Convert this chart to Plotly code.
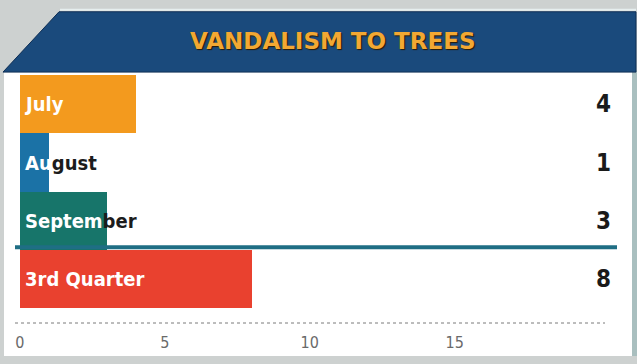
import plotly.graph_objects as go

# Data
categories = ["July", "August", "September", "3rd Quarter"]
counts = [4, 1, 3, 8]
bar_colors = ["#f39a1e", "#1b72a6", "#17756a", "#e9412f"]
x_ticks = [0, 5, 10, 15]
title_text = "VANDALISM TO TREES"

W, H = 637, 364
ML, MR, MT, MB = 15, 20, 75, 34
PW, PH = W - ML - MR, H - MT - MB


def px(x):
    """Figure pixel column -> paper fraction."""
    return (x - ML) / PW


def py(y):
    """Figure pixel row (from top) -> paper fraction."""
    return (H - MB - y) / PH


def narrow(s):
    return f"<span style='font-stretch:condensed'>{s}</span>"


rows = list(range(len(categories) - 1, -1, -1))  # first category on top

fig = go.Figure(
    go.Bar(
        x=counts,
        y=rows,
        orientation="h",
        marker=dict(color=bar_colors, line=dict(width=0)),
        width=1.0,
        hoverinfo="skip",
    )
)

label_font = "DejaVu Sans Condensed, DejaVu Sans, sans-serif"

shapes = [
    # white card
    dict(type="rect", xref="paper", yref="paper", layer="below",
         x0=px(4), x1=px(632), y0=py(364), y1=py(70),
         fillcolor="#ffffff", line=dict(width=0)),
    # right edge strip
    dict(type="rect", xref="paper", yref="paper", layer="below",
         x0=px(632), x1=px(637), y0=py(364), y1=py(70),
         fillcolor="#a9bfbf", line=dict(width=0)),
    # thin light rule above the banner
    dict(type="line", xref="paper", yref="paper", layer="above",
         x0=px(60), x1=px(636), y0=py(8), y1=py(8),
         line=dict(color="#e6eeee", width=2)),
    # header banner with slanted left corner
    dict(type="path", xref="paper", yref="paper", layer="above",
         path=f"M {px(59)},{py(10)} L {px(636)},{py(10)} L {px(636)},{py(72)} "
              f"L {px(3)},{py(72)} Z",
         fillcolor="#1a4a7c", line=dict(color="#0f2f55", width=1)),
    # separator rule between the months and the quarter total
    dict(type="line", xref="paper", yref="y", layer="above",
         x0=0, x1=1, y0=0.55, y1=0.55,
         line=dict(color="#1f6e84", width=4)),
    # dotted baseline
    dict(type="line", xref="paper", yref="paper", layer="above",
         x0=0, x1=px(605), y0=0, y1=0,
         line=dict(color="#7a7a7a", width=1, dash="dot")),
]

annotations = [
    dict(xref="paper", yref="paper", x=px(333), y=py(40),
         xanchor="center", yanchor="middle",
         text=f"<b>{title_text}</b>", showarrow=False,
         font=dict(family="DejaVu Sans, sans-serif", size=23, color="#f2a833",
                   shadow="1px 1px 1px #2a1a04")),
]

# letters that run past the end of a short bar are drawn dark
overhang = {"August": 2, "September": 6}

for cat, val, r in zip(categories, counts, rows):
    if cat in overhang:
        k = overhang[cat]
        txt = f"<b>{cat[:k]}<span style='color:#1c1c1c'>{cat[k:]}</span></b>"
    else:
        txt = f"<b>{cat}</b>"
    annotations.append(dict(
        xref="paper", yref="y", x=px(23), y=r, xanchor="left", yanchor="middle",
        text=narrow(txt), showarrow=False,
        font=dict(family=label_font, size=20, color="#ffffff")))
    annotations.append(dict(
        xref="paper", yref="y", x=1, y=r, xanchor="right", yanchor="middle",
        xshift=-4, text=narrow(f"<b>{val}</b>"), showarrow=False,
        font=dict(family=label_font, size=24, color="#1a1a1a")))

fig.update_layout(
    width=W, height=H,
    margin=dict(l=ML, r=MR, t=MT, b=MB, pad=0),
    paper_bgcolor="#cdd1d0",
    plot_bgcolor="rgba(0,0,0,0)",
    bargap=0,
    showlegend=False,
    shapes=shapes,
    annotations=annotations,
    xaxis=dict(range=[-0.17, 20.6], tickvals=x_ticks,
               ticktext=[narrow(str(t)) for t in x_ticks],
               showgrid=False, zeroline=False, showline=False, ticks="",
               ticklabelstandoff=8,
               tickfont=dict(family=label_font, size=16, color="#6a6a6a"),
               fixedrange=True),
    yaxis=dict(range=[-0.75, 3.5], showticklabels=False, showgrid=False,
               zeroline=False, showline=False, ticks="", fixedrange=True),
)

fig.write_html("out.html")
